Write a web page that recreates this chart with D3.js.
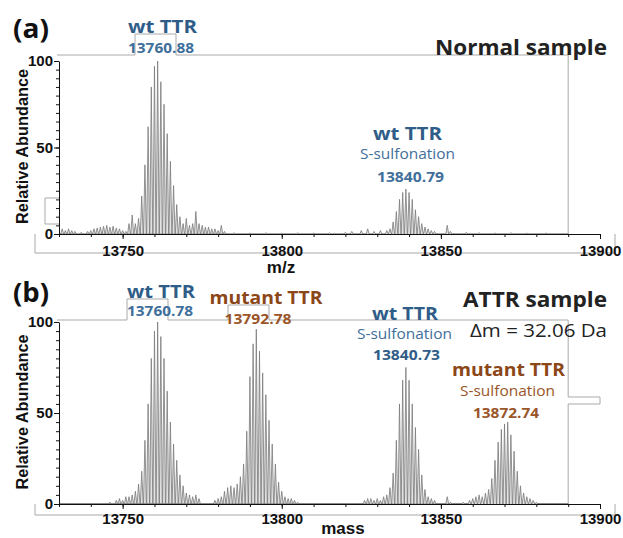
<!DOCTYPE html>
<html>
<head>
<meta charset="utf-8">
<script src="https://cdn.jsdelivr.net/npm/d3@7"></script>
<style>
  body { margin: 0; background: #fff; }
  svg { display: block; }
</style>
</head>
<body>
<svg id="chart"></svg>
<script>
const width = 623;
const height = 538;

// ---------------- data ----------------
const massDomain = [13730, 13900];
const xTickLabels = [13750, 13800, 13850, 13900];
const yTickLabels = [0, 50, 100];

// panel (a) : normal sample, [mass, relative abundance]
const normalWt = [
  [13731, 3], [13732, 2], [13733, 3], [13734, 2], [13735, 1.5], [13737, 1], [13739, 1.5],
  [13740, 2], [13741, 3], [13742, 3.5], [13743, 4], [13744, 4.5], [13745, 5], [13746, 4],
  [13747, 4.5], [13748, 3.5], [13749, 3], [13750, 2], [13751, 1.5], [13752, 6], [13753, 11],
  [13754, 6], [13755, 9], [13756, 22], [13757, 40], [13758, 62], [13759, 85], [13760, 97],
  [13761, 100], [13762, 88], [13763, 75], [13764, 58], [13765, 42], [13766, 28], [13767, 17],
  [13768, 10], [13769, 6], [13770, 9], [13771, 5], [13772, 6], [13773, 13], [13774, 6],
  [13775, 5], [13776, 4], [13777, 4], [13778, 3], [13779, 3], [13780, 2], [13781, 5], [13782, 1.5]
];
const normalSulf = [
  [13785, 0.8], [13790, 0.6], [13795, 0.8], [13800, 0.5], [13805, 0.7], [13810, 0.6],
  [13815, 0.8], [13820, 1], [13822, 1.5], [13825, 2], [13827, 3], [13829, 1.5], [13831, 2],
  [13833, 2], [13834, 3], [13835, 7], [13836, 13], [13837, 20], [13838, 24], [13839, 26],
  [13840, 24], [13841, 20], [13842, 14], [13843, 10], [13844, 6], [13845, 4], [13846, 3],
  [13847, 2], [13848, 1.5], [13852, 5], [13853, 1.5], [13858, 1], [13862, 0.8], [13867, 0.6],
  [13872, 0.8], [13877, 0.5], [13883, 0.6]
];

// panel (b) : ATTR sample
const attrWt = [
  [13746, 1], [13748, 2], [13749, 3], [13750, 2], [13751, 4], [13752, 4], [13753, 5],
  [13754, 7], [13755, 11], [13756, 18], [13757, 35], [13758, 55], [13759, 80], [13760, 95],
  [13761, 100], [13762, 92], [13763, 80], [13764, 62], [13765, 45], [13766, 33], [13767, 24],
  [13768, 16], [13769, 10], [13770, 6], [13771, 5], [13772, 4], [13773, 5], [13774, 3]
];
const attrMutant = [
  [13779, 2], [13780, 3], [13781, 4], [13782, 7], [13783, 9], [13784, 10], [13785, 9],
  [13786, 11], [13787, 15], [13788, 22], [13789, 40], [13790, 70], [13791, 88], [13792, 96],
  [13793, 84], [13794, 72], [13795, 60], [13796, 46], [13797, 33], [13798, 22], [13799, 12],
  [13800, 7], [13801, 4], [13802, 3], [13803, 3], [13804, 2], [13805, 1]
];
const attrWtSulf = [
  [13826, 2], [13827, 3], [13828, 3], [13829, 2], [13830, 3], [13831, 2], [13832, 4],
  [13833, 5], [13834, 9], [13835, 17], [13836, 35], [13837, 55], [13838, 68], [13839, 75],
  [13840, 68], [13841, 55], [13842, 42], [13843, 30], [13844, 16], [13845, 8], [13846, 4],
  [13847, 3], [13848, 2], [13852, 4], [13853, 1]
];
const attrMutantSulf = [
  [13857, 1], [13859, 2], [13860, 3], [13861, 4], [13862, 5], [13863, 4], [13864, 6],
  [13865, 8], [13866, 14], [13867, 24], [13868, 34], [13869, 41], [13870, 44], [13871, 45],
  [13872, 38], [13873, 29], [13874, 18], [13875, 10], [13876, 6], [13877, 4], [13878, 3],
  [13879, 2], [13880, 1]
];

const panelTags = ["(a)", "(b)"];
const sampleNames = ["Normal sample", "ATTR sample"];
const xAxisTitles = ["m/z", "mass"];
const deltaMass = "\u0394m = 32.06 Da";
const peakNames = ["wt TTR", "mutant TTR"];
const sulfName = "S-sulfonation";
const normalMasses = ["13760.88", "13840.79"];
const attrMasses = ["13760.78", "13792.78", "13840.73", "13872.74"];

// ---------------- drawing ----------------
const blue = "#2f5d88", blueLight = "#3f6f9b";
const brown = "#8c4719", brownLight = "#9a5528";
const frameGray = "#a9a9a9";
const calibri = "'Open Sans', Lato, sans-serif";
const arial = "'Liberation Sans', Arial, sans-serif";

const svg = d3.select("#chart")
  .attr("width", width)
  .attr("height", height)
  .attr("viewBox", [0, 0, width, height]);

const x = d3.scaleLinear(massDomain, [59, 600]);

function spectrumPath(y, peaks) {
  const pts = [[massDomain[0], 0]];
  peaks.forEach(([m, h]) => {
    pts.push([m - 0.45, 0], [m, h], [m + 0.45, 0]);
  });
  pts.push([massDomain[1] - 10, 0]);
  return d3.line().x(d => x(d[0])).y(d => y(d[1]))(pts);
}

// text squeezed/stretched to the width it has in the original figure
function txt(g, t, cx, cy, w, font, color, anchor = "middle") {
  return g.append("text")
    .attr("x", cx)
    .attr("y", cy)
    .attr("text-anchor", anchor)
    .attr("fill", color)
    .attr("textLength", w)
    .attr("lengthAdjust", "spacingAndGlyphs")
    .style("font", font)
    .text(t);
}

function drawPanel(opts) {
  const y = d3.scaleLinear([0, 100], [opts.y0, opts.y100]);
  const g = svg.append("g");

  // leftover frame lines from the original figure
  g.append("path")
    .attr("d", opts.frame(y))
    .attr("fill", "none")
    .attr("stroke", frameGray)
    .attr("stroke-width", 1);

  // spectrum traces
  opts.series.forEach(s => {
    g.append("path")
      .attr("d", spectrumPath(y, s))
      .attr("fill", "#e2e2e2")
      .attr("stroke", "#7a7a7a")
      .attr("stroke-width", 0.8);
  });

  // x axis: minor + major ticks
  g.append("g")
    .attr("transform", `translate(0,${y(0)})`)
    .call(d3.axisBottom(x).tickValues(d3.range(13730, 13901, 10)).tickSize(3).tickSizeOuter(0).tickFormat(""))
    .call(a => a.selectAll("line,path").attr("stroke", "#111"));
  g.append("g")
    .attr("transform", `translate(0,${y(0)})`)
    .call(d3.axisBottom(x).tickValues(xTickLabels).tickSize(5).tickSizeOuter(0)
      .tickPadding(opts.xPad).tickFormat(d3.format("d")))
    .call(a => a.select(".domain").remove())
    .call(a => a.selectAll("line").attr("stroke", "#111"))
    .call(a => a.selectAll("text").attr("fill", "#111")
      .style("font", `bold 15px ${arial}`));

  // y axis
  g.append("g")
    .attr("transform", `translate(${x(massDomain[0])},0)`)
    .call(d3.axisLeft(y).tickValues(d3.range(0, 101, 5)).tickSize(3).tickSizeOuter(0).tickFormat(""))
    .call(a => a.selectAll("line,path").attr("stroke", "#111"));
  g.append("g")
    .attr("transform", `translate(${x(massDomain[0])},0)`)
    .call(d3.axisLeft(y).tickValues(yTickLabels).tickSize(5).tickSizeOuter(0).tickPadding(1))
    .call(a => a.select(".domain").remove())
    .call(a => a.selectAll("line").attr("stroke", "#111"))
    .call(a => a.selectAll("text").attr("fill", "#111")
      .style("font", `bold 15px ${arial}`));

  // axis titles
  g.append("text")
    .attr("transform", `translate(28,${(y(0) + y(100)) / 2 - 1}) rotate(-90)`)
    .attr("text-anchor", "middle")
    .attr("fill", "#111")
    .style("font", `bold 16.3px ${arial}`)
    .text("Relative Abundance");
  g.append("text")
    .attr("x", opts.xTitleX)
    .attr("y", opts.xTitleY)
    .attr("text-anchor", "middle")
    .attr("fill", "#111")
    .style("font", `bold 17px ${arial}`)
    .text(opts.xTitle);

  // panel tag and sample name
  txt(g, opts.tag, 13, opts.tagY, 36, `bold 26px ${calibri}`, "#111", "start");
  txt(g, opts.name, 607, opts.nameY, opts.nameW, `bold 22px ${calibri}`, "#222", "end");

  return { g, y };
}

// ---- panel (a)
const pa = drawPanel({
  y0: 234, y100: 61, xPad: 6,
  series: [normalWt, normalSulf],
  tag: panelTags[0], tagY: 38,
  name: sampleNames[0], nameY: 55, nameW: 172,
  xTitle: xAxisTitles[0], xTitleX: 281, xTitleY: 273,
  frame: y => {
    const top = y(100) - 6, right = x(13890);
    return `M57,${top}H135V34H176V${top}H${right}V${y(0)}` +
      `M35,${y(0)}V${y(0) + 19}H615V${y(0)}` +
      `M${x(massDomain[0])},198H45V224H${x(massDomain[0])}`;
  }
});
const nameFont = `bold 17px ${calibri}`;
const numFont = `bold 14.5px ${calibri}`;
const sulfFont = `14.5px ${calibri}`;
txt(pa.g, peakNames[0], 162.5, 33, 69, nameFont, blue);
txt(pa.g, normalMasses[0], 161, 53, 66, numFont, blueLight);
txt(pa.g, peakNames[0], 407.5, 140, 69, nameFont, blue);
txt(pa.g, sulfName, 407.5, 159, 95, sulfFont, blueLight);
txt(pa.g, normalMasses[1], 410.5, 182, 67, numFont, blueLight);

// ---- panel (b)
const pb = drawPanel({
  y0: 504, y100: 322, xPad: 4,
  series: [attrWt, attrMutant, attrWtSulf, attrMutantSulf],
  tag: panelTags[1], tagY: 302,
  name: sampleNames[1], nameY: 307, nameW: 144,
  xTitle: xAxisTitles[1], xTitleX: 343, xTitleY: 534,
  frame: y => {
    const top = y(100) - 2, right = x(13890);
    return `M57,${top}H127V299H168V${top}H228V305H269V${top}H${right}V397H600V404H${right}V${y(0)}` +
      `M35,${y(0)}V${y(0) + 11}H615V${y(0)}`;
  }
});
txt(pb.g, deltaMass, 607, 337, 137, `19px ${calibri}`, "#222", "end");
txt(pb.g, peakNames[0], 161, 298, 68, nameFont, blue);
txt(pb.g, attrMasses[0], 160, 316, 66, numFont, blueLight);
txt(pb.g, peakNames[1], 266, 304, 113, nameFont, brown);
txt(pb.g, attrMasses[1], 258, 324, 67, numFont, brownLight);
txt(pb.g, peakNames[0], 405, 320, 66, nameFont, blue);
txt(pb.g, sulfName, 404.5, 339, 95, sulfFont, blueLight);
txt(pb.g, attrMasses[2], 406.5, 360, 67, numFont, blue);
txt(pb.g, peakNames[1], 508.5, 376, 113, nameFont, brown);
txt(pb.g, sulfName, 507.5, 396, 95, sulfFont, brownLight);
txt(pb.g, attrMasses[3], 506, 418, 66, numFont, brownLight);
</script>
</body>
</html>
